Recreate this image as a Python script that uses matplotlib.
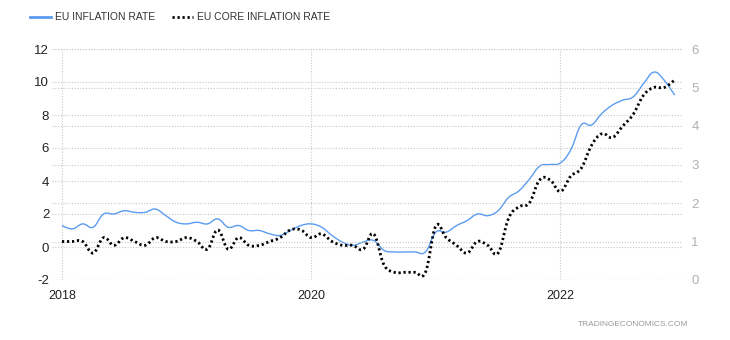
import matplotlib
matplotlib.use("Agg")
import matplotlib.pyplot as plt
import numpy as np
from matplotlib.path import Path
from matplotlib.patches import PathPatch
from matplotlib.lines import Line2D

# monthly, Jan 2018 .. Dec 2022
headline = [
    1.3, 1.1, 1.4, 1.2, 2.0, 2.0, 2.2, 2.1, 2.1, 2.3, 1.9, 1.5,
    1.4, 1.5, 1.4, 1.7, 1.2, 1.3, 1.0, 1.0, 0.8, 0.7, 1.0, 1.3,
    1.4, 1.2, 0.7, 0.3, 0.1, 0.3, 0.4, -0.2, -0.3, -0.3, -0.3, -0.3,
    0.9, 0.9, 1.3, 1.6, 2.0, 1.9, 2.2, 3.0, 3.4, 4.1, 4.9, 5.0,
    5.1, 5.9, 7.4, 7.4, 8.1, 8.6, 8.9, 9.1, 9.9, 10.6, 10.1, 9.2,
]
core = [
    1.0, 1.0, 1.0, 0.7, 1.1, 0.9, 1.1, 1.0, 0.9, 1.1, 1.0, 1.0,
    1.1, 1.0, 0.8, 1.3, 0.8, 1.1, 0.9, 0.9, 1.0, 1.1, 1.3, 1.3,
    1.1, 1.2, 1.0, 0.9, 0.9, 0.8, 1.2, 0.4, 0.2, 0.2, 0.2, 0.2,
    1.4, 1.1, 0.9, 0.7, 1.0, 0.9, 0.7, 1.6, 1.9, 2.0, 2.6, 2.6,
    2.3, 2.7, 2.9, 3.5, 3.8, 3.7, 4.0, 4.3, 4.8, 5.0, 5.0, 5.2,
]
year_ticks = [0, 24, 48]
year_labels = ["2018", "2020", "2022"]
left_ticks = [-2, 0, 2, 4, 6, 8, 10, 12]
right_ticks = [0, 1, 2, 3, 4, 5, 6]

BLUE = "#5b9cf0"
GRID = "#c8c8c8"


def spline_path(xs, ys, smoothing=1.5):
    """Smooth bezier path through the points."""
    xs = np.asarray(xs, float)
    ys = np.asarray(ys, float)
    n = len(xs)
    denom = smoothing + 1
    lc = np.column_stack([xs, ys])
    rc = np.column_stack([xs, ys])
    for i in range(1, n - 1):
        px, py = xs[i], ys[i]
        lx, ly = xs[i - 1], ys[i - 1]
        nx, ny = xs[i + 1], ys[i + 1]
        lcx = (smoothing * px + lx) / denom
        lcy = (smoothing * py + ly) / denom
        rcx = (smoothing * px + nx) / denom
        rcy = (smoothing * py + ny) / denom
        corr = (rcy - lcy) * (rcx - px) / (rcx - lcx) + py - rcy
        lc[i] = (lcx, lcy + corr)
        rc[i] = (rcx, rcy + corr)
    verts = [(xs[0], ys[0])]
    codes = [Path.MOVETO]
    for i in range(1, n):
        verts += [tuple(rc[i - 1]), tuple(lc[i]), (xs[i], ys[i])]
        codes += [Path.CURVE4] * 3
    return Path(verts, codes)


plt.rcParams["font.family"] = ["Liberation Sans", "DejaVu Sans"]

fig = plt.figure(figsize=(7.3, 3.4), dpi=100)
ax = fig.add_axes([52 / 730, 60 / 340, 631 / 730, 231 / 340])
ax2 = ax.twinx()

months = np.arange(len(headline))

ax.set_xlim(-0.96, 59.8)
ax.set_ylim(-2, 12)
ax2.set_ylim(0, 6)

for a in (ax, ax2):
    for s in a.spines.values():
        s.set_visible(False)
    a.tick_params(length=0)

ax.set_xticks(year_ticks)
ax.set_xticklabels(year_labels, fontsize=9, color="#222222")
ax.tick_params(axis="x", pad=7)
ax.set_yticks(left_ticks)
ax.set_yticklabels([str(v) for v in left_ticks], fontsize=9.5, color="#222222")
ax.tick_params(axis="y", pad=2)
ax2.set_yticks(right_ticks)
ax2.set_yticklabels([str(v) for v in right_ticks], fontsize=9.5, color="#b0b0b0")
ax2.tick_params(axis="y", pad=6)

ax.grid(True, color=GRID, linestyle=(0, (1, 1.5)), linewidth=0.8)
ax2.grid(True, axis="y", color=GRID, linestyle=(0, (1, 1.5)), linewidth=0.8)
ax.set_axisbelow(True)
ax2.set_axisbelow(True)

ax.add_patch(PathPatch(spline_path(months, headline), fill=False,
                       edgecolor=BLUE, linewidth=1.0, zorder=3))
ax2.add_patch(PathPatch(spline_path(months, core), fill=False,
                        edgecolor="black", linewidth=2.0,
                        linestyle=(0, (0.8, 1.0)), zorder=3))

handles = [
    Line2D([], [], color=BLUE, linewidth=2.0),
    Line2D([], [], color="black", linewidth=2.0, linestyle=(0, (0.8, 1.0))),
]
fig.legend(handles, ["EU INFLATION RATE", "EU CORE INFLATION RATE"],
           loc="upper left", bbox_to_anchor=(26 / 730, 1 - 8 / 340),
           ncol=2, frameon=False, fontsize=7.5, handlelength=2.0,
           handletextpad=0.4, columnspacing=1.6, labelcolor="#333333",
           borderaxespad=0)

fig.text(688 / 730, 1 - 325 / 340, "TRADINGECONOMICS.COM", ha="right",
         va="center", fontsize=6, color="#999999")

fig.savefig("out.png", dpi=100)
